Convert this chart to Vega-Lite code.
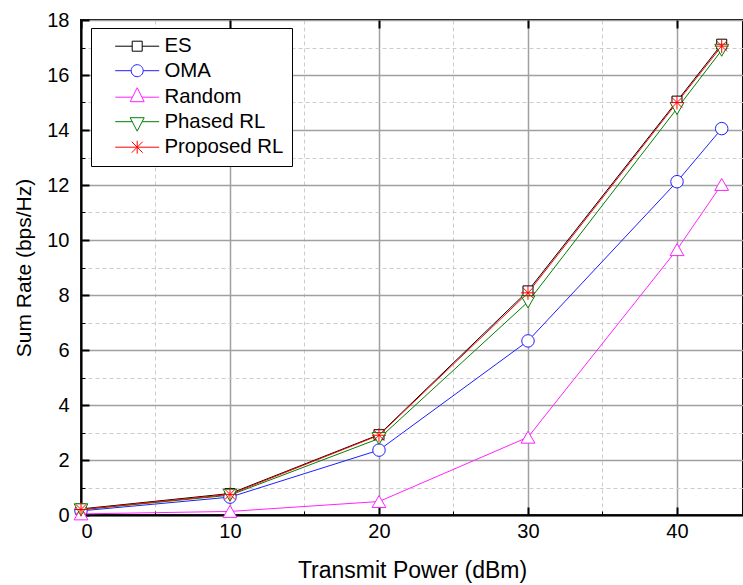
{
  "$schema": "https://vega.github.io/schema/vega-lite/v6.json",
  "width": 662,
  "height": 495,
  "autosize": {"type": "none"},
  "padding": {"left": 81, "top": 20, "right": 0, "bottom": 70},
  "background": "white",
  "config": {
    "view": {"stroke": "black", "strokeWidth": 2},
    "font": "Liberation Sans",
    "axis": {"labelColor": "black", "titleColor": "black", "labelFont": "Liberation Sans", "titleFont": "Liberation Sans", "titleFontWeight": "normal"}
  },
  "data": {
    "values": [
      {"series": "ES", "x": 0, "y": 0.22},
      {"series": "ES", "x": 10, "y": 0.78},
      {"series": "ES", "x": 20, "y": 2.92},
      {"series": "ES", "x": 30, "y": 8.15},
      {"series": "ES", "x": 40, "y": 15.05},
      {"series": "ES", "x": 43, "y": 17.12},
      {"series": "OMA", "x": 0, "y": 0.15},
      {"series": "OMA", "x": 10, "y": 0.65},
      {"series": "OMA", "x": 20, "y": 2.36},
      {"series": "OMA", "x": 30, "y": 6.33},
      {"series": "OMA", "x": 40, "y": 12.12},
      {"series": "OMA", "x": 43, "y": 14.05},
      {"series": "Random", "x": 0, "y": 0.04},
      {"series": "Random", "x": 10, "y": 0.13},
      {"series": "Random", "x": 20, "y": 0.49},
      {"series": "Random", "x": 30, "y": 2.83},
      {"series": "Random", "x": 40, "y": 9.65},
      {"series": "Random", "x": 43, "y": 12.02},
      {"series": "Phased RL", "x": 0, "y": 0.19},
      {"series": "Phased RL", "x": 10, "y": 0.72},
      {"series": "Phased RL", "x": 20, "y": 2.78},
      {"series": "Phased RL", "x": 30, "y": 7.75},
      {"series": "Phased RL", "x": 40, "y": 14.78},
      {"series": "Phased RL", "x": 43, "y": 16.9},
      {"series": "Proposed RL", "x": 0, "y": 0.2},
      {"series": "Proposed RL", "x": 10, "y": 0.75},
      {"series": "Proposed RL", "x": 20, "y": 2.9},
      {"series": "Proposed RL", "x": 30, "y": 8.08},
      {"series": "Proposed RL", "x": 40, "y": 15.0},
      {"series": "Proposed RL", "x": 43, "y": 17.05}
    ]
  },
  "resolve": {"axis": {"x": "independent", "y": "independent"}, "legend": {"stroke": "independent", "shape": "independent"}},
  "layer": [
    {
      "mark": {"type": "line", "strokeWidth": 1},
      "encoding": {
        "x": {
          "field": "x", "type": "quantitative",
          "scale": {"domain": [0, 44.43], "nice": false},
          "axis": {
            "values": [0, 5, 10, 15, 20, 25, 30, 35, 40],
            "title": "Transmit Power (dBm)",
            "titleFontSize": 23,
            "titlePadding": 18,
            "labelFontSize": 20,
            "labelExpr": "datum.value % 10 === 0 ? datum.label : ''",
            "labelPadding": 14,
            "domainColor": "black",
            "domainWidth": 2,
            "tickColor": "black",
            "tickSize": {"condition": {"test": "datum.value % 10 !== 0", "value": -4}, "value": -8},
            "tickWidth": {"condition": {"test": "datum.value % 10 !== 0", "value": 1}, "value": 2},
            "grid": true,
            "gridColor": {"condition": {"test": "datum.value % 10 !== 0", "value": "#cccccc"}, "value": "#a0a0a0"},
            "gridDash": {"condition": {"test": "datum.value % 10 !== 0", "value": [4, 3]}, "value": []},
            "gridWidth": {"condition": {"test": "datum.value % 10 !== 0", "value": 1}, "value": 1.5}
          }
        },
        "y": {
          "field": "y", "type": "quantitative",
          "scale": {"domain": [0, 18], "nice": false},
          "axis": {
            "values": [0, 1, 2, 3, 4, 5, 6, 7, 8, 9, 10, 11, 12, 13, 14, 15, 16, 17, 18],
            "title": "Sum Rate (bps/Hz)",
            "titleFontSize": 21,
            "titlePadding": 12,
            "labelFontSize": 20,
            "labelExpr": "datum.value % 2 === 0 ? datum.label : ''",
            "labelPadding": 20,
            "domainColor": "black",
            "domainWidth": 2,
            "tickColor": "black",
            "tickSize": {"condition": {"test": "datum.value % 2 !== 0", "value": -4}, "value": -8},
            "tickWidth": {"condition": {"test": "datum.value % 2 !== 0", "value": 1}, "value": 2},
            "grid": true,
            "gridColor": {"condition": {"test": "datum.value % 2 !== 0", "value": "#cccccc"}, "value": "#a0a0a0"},
            "gridDash": {"condition": {"test": "datum.value % 2 !== 0", "value": [4, 3]}, "value": []},
            "gridWidth": {"condition": {"test": "datum.value % 2 !== 0", "value": 1}, "value": 1.5}
          }
        },
        "stroke": {
          "field": "series", "type": "nominal",
          "scale": {"domain": ["ES", "OMA", "Random", "Phased RL", "Proposed RL"], "range": ["#000000", "#1f1fff", "#ff22ff", "#008000", "#ff0000"]},
          "legend": null
        }
      }
    },
    {
      "transform": [{"filter": "datum.series === 'ES'"}],
      "mark": {"type": "point", "shape": "square", "filled": true, "fill": "white", "size": 100, "strokeWidth": 1, "opacity": 1},
      "encoding": {
        "x": {"field": "x", "type": "quantitative", "axis": null},
        "y": {"field": "y", "type": "quantitative", "axis": null},
        "stroke": {"field": "series", "type": "nominal", "legend": null}
      }
    },
    {
      "transform": [{"filter": "datum.series === 'OMA'"}],
      "mark": {"type": "point", "shape": "circle", "filled": true, "fill": "white", "size": 156, "strokeWidth": 1, "opacity": 1},
      "encoding": {
        "x": {"field": "x", "type": "quantitative", "axis": null},
        "y": {"field": "y", "type": "quantitative", "axis": null},
        "stroke": {"field": "series", "type": "nominal", "legend": null}
      }
    },
    {
      "transform": [{"filter": "datum.series === 'Random'"}],
      "mark": {"type": "point", "shape": "triangle-up", "filled": true, "fill": "white", "size": 190, "strokeWidth": 1, "opacity": 1},
      "encoding": {
        "x": {"field": "x", "type": "quantitative", "axis": null},
        "y": {"field": "y", "type": "quantitative", "axis": null},
        "stroke": {"field": "series", "type": "nominal", "legend": null}
      }
    },
    {
      "transform": [{"filter": "datum.series === 'Phased RL'"}],
      "mark": {"type": "point", "shape": "triangle-down", "filled": true, "fill": "white", "size": 190, "strokeWidth": 1, "opacity": 1},
      "encoding": {
        "x": {"field": "x", "type": "quantitative", "axis": null},
        "y": {"field": "y", "type": "quantitative", "axis": null},
        "stroke": {"field": "series", "type": "nominal", "legend": null}
      }
    },
    {
      "transform": [{"filter": "datum.series === 'Proposed RL'"}],
      "mark": {"type": "point", "shape": "M-1,0H1M0,-1V1M-0.75,-0.75L0.75,0.75M-0.75,0.75L0.75,-0.75", "filled": false, "size": 196, "strokeWidth": 1, "opacity": 1},
      "encoding": {
        "x": {"field": "x", "type": "quantitative", "axis": null},
        "y": {"field": "y", "type": "quantitative", "axis": null},
        "stroke": {"field": "series", "type": "nominal", "legend": null}
      }
    },
    {
      "mark": {"type": "point", "filled": true, "fill": "white", "opacity": 0, "size": 100, "strokeWidth": 1},
      "encoding": {
        "x": {
          "field": "x", "type": "quantitative",
          "axis": {"orient": "top", "values": [0, 10, 20, 30, 40], "labels": false, "grid": false, "domain": false, "tickSize": -8, "tickWidth": 2, "tickColor": "black", "title": null}
        },
        "y": {"field": "y", "type": "quantitative", "axis": null},
        "stroke": {
          "field": "series", "type": "nominal",
          "legend": {"title": null, "orient": "none", "legendX": 10, "legendY": 8, "fillColor": "white", "strokeColor": "black", "padding": 8, "symbolSize": 100, "symbolOffset": 28, "labelOffset": 17, "labelFontSize": 20.4, "labelFont": "Liberation Sans", "labelColor": "black", "rowPadding": 3.5, "symbolOpacity": 1, "symbolStrokeWidth": 1, "symbolFillColor": "white", "cornerRadius": 0, "labelLimit": 300}
        },
        "shape": {
          "field": "series", "type": "nominal",
          "scale": {
            "domain": ["ES", "OMA", "Random", "Phased RL", "Proposed RL"],
            "range": [
              "M-4.4,0H-1M1,0H4.4M-1,-1H1V1H-1Z",
              "M-4.4,0H-1.2M1.2,0H4.4M-1.2,0A1.2,1.2,0,1,0,1.2,0A1.2,1.2,0,1,0,-1.2,0Z",
              "M-4.4,0H-0.95M0.95,0H4.4M0,-1.9L1.4,0.9H-1.4Z",
              "M-4.4,0H-1M1,0H4.4M-1.4,-0.8H1.4L0,1.9Z",
              "M-4.4,0H4.4M0,-1.3V1.3M-1.1,-1.1L1.1,1.1M-1.1,1.1L1.1,-1.1"
            ]
          },
          "legend": {"title": null, "orient": "none", "legendX": 10, "legendY": 8, "fillColor": "white", "strokeColor": "black", "padding": 8, "symbolSize": 100, "symbolOffset": 28, "labelOffset": 17, "labelFontSize": 20.4, "labelFont": "Liberation Sans", "labelColor": "black", "rowPadding": 3.5, "symbolOpacity": 1, "symbolStrokeWidth": 1, "symbolFillColor": "white", "cornerRadius": 0, "labelLimit": 300}
        }
      }
    }
  ]
}
